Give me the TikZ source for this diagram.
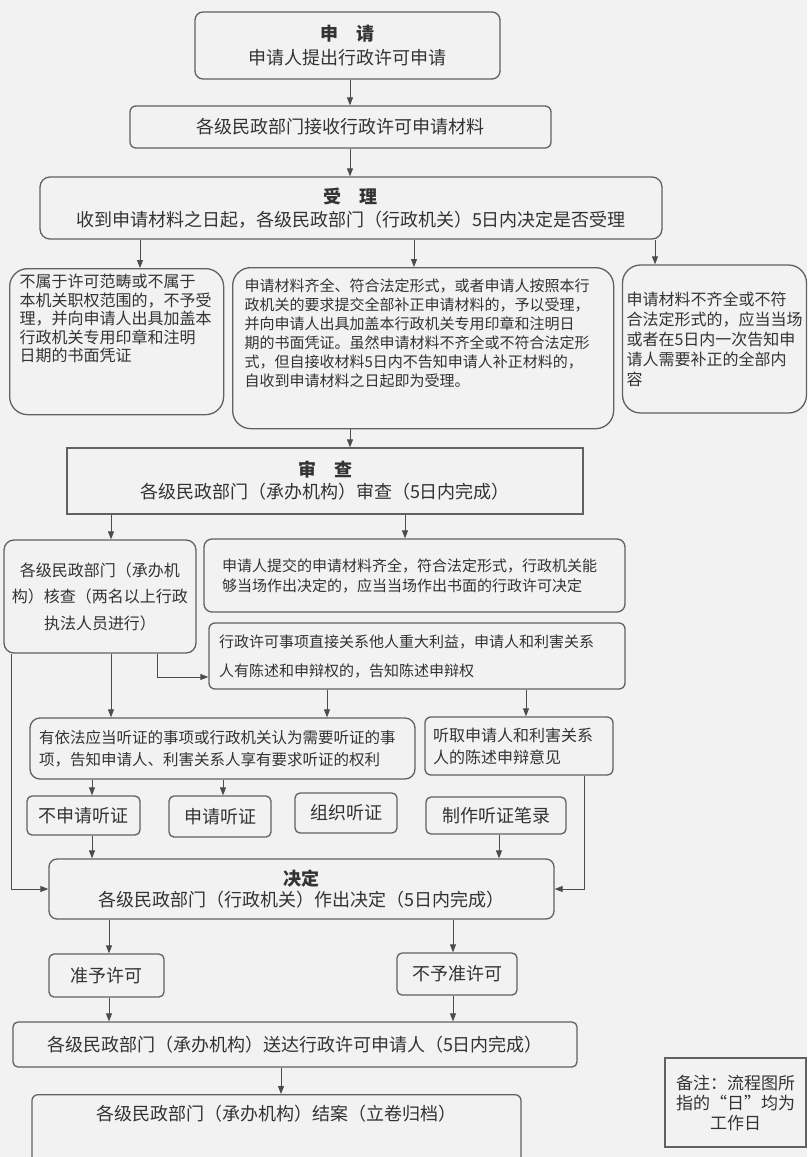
\documentclass[tikz,border=0pt]{standalone}
\usepackage{fontspec}
\setmainfont{Noto Sans CJK SC}
\usetikzlibrary{arrows.meta}

\begin{document}
\begin{tikzpicture}[x=1pt,y=-1pt,
    >={Triangle[length=8pt,width=6pt]},
    box/.style={draw=black!62,line width=1.3pt,rounded corners=8pt,text=black!80,inner sep=4pt},
    sqbox/.style={box,sharp corners},
    link/.style={draw=black!70,line width=0.9pt},
    fbig/.style={font=\fontsize{18}{24}\selectfont},
    fmid/.style={font=\fontsize{16}{20}\selectfont},
    fsmall/.style={font=\fontsize{15}{20}\selectfont}]
    % Page
    \fill[black!5] (0,0) rectangle (807,1157);
    \useasboundingbox (0,0) rectangle (807,1157);

    % Application
    \node[box,fbig,align=center,minimum width=305pt,minimum height=67pt] (apply) at (347.5,45.5)
        {{\bfseries 申　请}\\申请人提出行政许可申请};
    \node[box,fbig,rounded corners=6pt,minimum width=421pt,minimum height=42pt] (receive) at (340.5,127)
        {各级民政部门接收行政许可申请材料};
    \node[box,align=center,font=\fontsize{18}{23}\selectfont,rounded corners=10pt,minimum width=622pt,minimum height=62pt] (accept) at (351,208)
        {{\bfseries 受　理}\\收到申请材料之日起，各级民政部门（行政机关）5日内决定是否受理};

    % Acceptance outcomes
    \node[box,font=\fontsize{16}{18.5}\selectfont,rounded corners=18pt,anchor=north west,align=left,
        text width=194pt,inner xsep=10pt,inner ysep=5pt,text height=14pt,text depth=122pt] (reject) at (9,268)
        {不属于许可范畴或不属于\\本机关职权范围的，不予受\\理，并向申请人出具加盖本\\行政机关专用印章和注明\\日期的书面凭证};
    \node[box,font=\fontsize{15}{19}\selectfont,rounded corners=18pt,anchor=north west,align=left,
        text width=357pt,inner xsep=12pt,inner ysep=11pt,text height=13pt,text depth=126pt] (full) at (232,267)
        {申请材料齐全、符合法定形式，或者申请人按照本行\\政机关的要求提交全部补正申请材料的，予以受理，\\并向申请人出具加盖本行政机关专用印章和注明日\\期的书面凭证。虽然申请材料不齐全或不符合法定形\\式，但自接收材料5日内不告知申请人补正材料的，\\自收到申请材料之日起即为受理。};
    \node[box,fmid,rounded corners=18pt,align=left,text width=176pt,inner xsep=4pt,minimum height=148pt] (incomplete) at (714.5,339)
        {申请材料不齐全或不符\\合法定形式的，应当当场\\或者在5日内一次告知申\\请人需要补正的全部内\\容};

    % Review
    \node[sqbox,align=center,font=\fontsize{18}{22}\selectfont,minimum width=516pt,minimum height=66pt] (review) at (325,481)
        {{\bfseries 审　查}\\各级民政部门（承办机构）审查（5日内完成）};
    \node[box,align=center,font=\fontsize{16}{26.5}\selectfont,rounded corners=10pt,text width=184pt,inner xsep=4pt,minimum height=113pt] (verify) at (100,596.5)
        {各级民政部门（承办机\\构）核查（两名以上行政\\执法人员进行）};
    \node[box,fsmall,align=left,text width=385pt,inner xsep=18pt,minimum height=73pt] (onsite) at (414.5,575.5)
        {申请人提交的申请材料齐全，符合法定形式，行政机关能\\够当场作出决定的，应当当场作出书面的行政许可决定};
    \node[box,align=left,font=\fontsize{15}{29}\selectfont,rounded corners=6pt,text width=396pt,inner xsep=10pt,minimum height=66pt] (inform) at (417,656)
        {行政许可事项直接关系他人重大利益，申请人和利害关系\\人有陈述和申辩权的，告知陈述申辩权};

    % Hearing
    \node[box,align=left,font=\fontsize{15.5}{22}\selectfont,rounded corners=10pt,text width=367pt,inner xsep=9pt,minimum height=61pt] (notice) at (222.5,748.5)
        {有依法应当听证的事项或行政机关认为需要听证的事\\项，告知申请人、利害关系人享有要求听证的权利};
    \node[box,align=left,font=\fontsize{16}{22}\selectfont,rounded corners=6pt,text width=172pt,inner xsep=8pt,minimum height=58pt] (listen) at (519,746)
        {听取申请人和利害关系\\人的陈述申辩意见};
    \node[box,fbig,rounded corners=5pt,minimum width=113pt,minimum height=39pt] (nohear) at (83.5,815.5) {不申请听证};
    \node[box,fbig,rounded corners=5pt,minimum width=102pt,minimum height=41pt] (hear) at (220,816.5) {申请听证};
    \node[box,fbig,rounded corners=5pt,minimum width=102pt,minimum height=40pt] (organize) at (346,813) {组织听证};
    \node[box,fbig,rounded corners=5pt,minimum width=140pt,minimum height=37pt] (record) at (496,815.5) {制作听证笔录};

    % Decision
    \node[box,align=center,font=\fontsize{18}{21}\selectfont,minimum width=505pt,minimum height=60pt] (decide) at (301.5,889)
        {{\bfseries 决定}\\各级民政部门（行政机关）作出决定（5日内完成）};
    \node[box,fbig,rounded corners=5pt,minimum width=115pt,minimum height=43pt] (approve) at (106.5,975.5) {准予许可};
    \node[box,fbig,rounded corners=5pt,minimum width=120pt,minimum height=42pt] (deny) at (457,974) {不予准许可};
    \node[box,fbig,rounded corners=5pt,minimum width=564pt,minimum height=45pt] (deliver) at (295,1044.5)
        {各级民政部门（承办机构）送达行政许可申请人（5日内完成）};
    \node[box,fbig,rounded corners=6pt,anchor=north,minimum width=489pt,inner ysep=6pt,text height=20pt,text depth=60pt] (archive) at (276.5,1094)
        {各级民政部门（承办机构）结案（立卷归档）};
    \node[sqbox,align=center,font=\fontsize{17}{20}\selectfont,minimum width=141pt,minimum height=89pt] (remark) at (735.5,1102.5)
        {备注：流程图所\\指的“日”均为\\工作日};

    % Arrows
    \draw[link,->] (350,0 |- apply.south) -- (350,0 |- receive.north);
    \draw[link,->] (350,0 |- receive.south) -- (350,0 |- accept.north);
    \draw[link,->] (140,0 |- accept.south) -- (140,0 |- reject.north);
    \draw[link,->] (414,0 |- accept.south) -- (414,0 |- full.north);
    \draw[link,->] (655,0 |- accept.south) -- (655,0 |- incomplete.north);
    \draw[link,->] (350,0 |- full.south) -- (350,0 |- review.north);
    \draw[link,->] (111,0 |- review.south) -- (111,0 |- verify.north);
    \draw[link,->] (405,0 |- review.south) -- (405,0 |- onsite.north);
    \draw[link,->] (157,0 |- verify.south) |- (inform.west |- 0,677);
    \draw[link,->] (111,0 |- verify.south) -- (111,0 |- notice.north);
    \draw[link,->] (11,0 |- verify.south) |- (decide.west);
    \draw[link,->] (327,0 |- inform.south) -- (327,0 |- notice.north);
    \draw[link,->] (526,0 |- inform.south) -- (526,0 |- listen.north);
    \draw[link,->] (92,0 |- notice.south) -- (92,0 |- nohear.north);
    \draw[link,->] (223,0 |- notice.south) -- (223,0 |- hear.north);
    \draw[link,->] (584,0 |- listen.south) |- (decide.east);
    \draw[link,->] (92,0 |- nohear.south) -- (92,0 |- decide.north);
    \draw[link,->] (499,0 |- record.south) -- (499,0 |- decide.north);
    \draw[link,->] (109,0 |- decide.south) -- (109,0 |- approve.north);
    \draw[link,->] (453,0 |- decide.south) -- (453,0 |- deny.north);
    \draw[link,->] (109,0 |- approve.south) -- (109,0 |- deliver.north);
    \draw[link,->] (453,0 |- deny.south) -- (453,0 |- deliver.north);
    \draw[link,->] (281,0 |- deliver.south) -- (281,0 |- archive.north);
\end{tikzpicture}
\end{document}
